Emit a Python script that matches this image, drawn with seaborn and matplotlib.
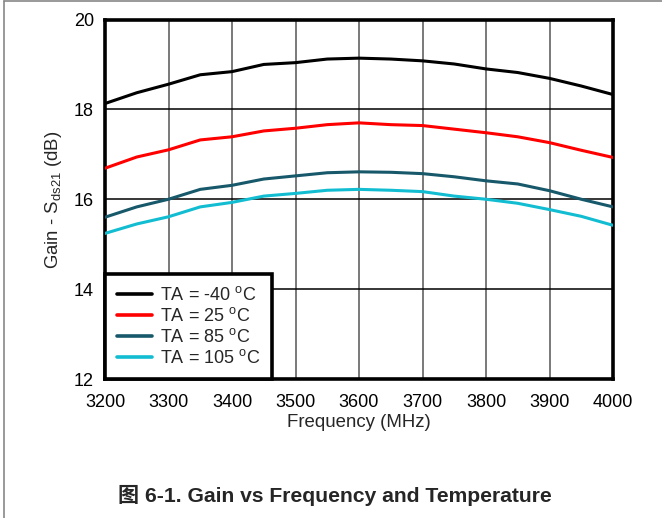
import numpy as np
import pandas as pd
import matplotlib
matplotlib.use("Agg")
import matplotlib.pyplot as plt
from matplotlib.lines import Line2D
import seaborn as sns

# Frequency sweep (MHz)
freq = [3200, 3250, 3300, 3350, 3400, 3450, 3500, 3550, 3600,
        3650, 3700, 3750, 3800, 3850, 3900, 3950, 4000]

# Gain (dB) at each temperature
gain_m40 = [18.13, 18.37, 18.56, 18.77, 18.84, 19.00, 19.04, 19.12, 19.14,
            19.12, 19.08, 19.01, 18.90, 18.82, 18.69, 18.52, 18.33]
gain_25 = [16.69, 16.94, 17.10, 17.32, 17.39, 17.52, 17.58, 17.66, 17.70,
           17.66, 17.64, 17.56, 17.48, 17.39, 17.26, 17.09, 16.93]
gain_85 = [15.60, 15.83, 16.00, 16.22, 16.31, 16.45, 16.52, 16.59, 16.61,
           16.60, 16.57, 16.50, 16.41, 16.34, 16.19, 16.00, 15.83]
gain_105 = [15.24, 15.45, 15.61, 15.83, 15.93, 16.07, 16.13, 16.20, 16.22,
            16.20, 16.17, 16.07, 16.00, 15.91, 15.77, 15.62, 15.42]

series_labels = ["TA = -40 $^{\\mathrm{o}}$C", "TA = 25 $^{\\mathrm{o}}$C",
                 "TA = 85 $^{\\mathrm{o}}$C", "TA = 105 $^{\\mathrm{o}}$C"]
series_colors = ["#000000", "#ff0000", "#17596b", "#12bdd2"]

x_ticks = [3200, 3300, 3400, 3500, 3600, 3700, 3800, 3900, 4000]
y_ticks = [12, 14, 16, 18, 20]

frames = []
for lab, g in zip(series_labels, [gain_m40, gain_25, gain_85, gain_105]):
    frames.append(pd.DataFrame({"freq": freq, "gain": g, "series": lab}))
df = pd.concat(frames, ignore_index=True)

sns.set_style("white")
plt.rcParams["font.family"] = ["Liberation Sans", "DejaVu Sans"]
plt.rcParams["mathtext.fontset"] = "custom"
plt.rcParams["mathtext.rm"] = "Liberation Sans"
plt.rcParams["mathtext.it"] = "Liberation Sans:italic"

fig = plt.figure(figsize=(6.62, 5.18), dpi=100)
ax = fig.add_axes([105 / 662, 1 - 379 / 518, 508 / 662, 359.5 / 518])

sns.lineplot(data=df, x="freq", y="gain", hue="series",
             palette=series_colors, hue_order=series_labels,
             linewidth=2.2, ax=ax, legend=False, zorder=3)

ax.set_xlim(3200, 4000)
ax.set_ylim(12, 20)
ax.set_xticks(x_ticks)
ax.set_yticks(y_ticks)
ax.tick_params(axis="both", length=0, labelsize=13, colors="black")
ax.tick_params(axis="x", pad=11)
ax.tick_params(axis="y", pad=8)

# Grid
for xv in x_ticks[1:-1]:
    ax.axvline(xv, color="#555555", linewidth=1.1, zorder=1)
for yv in y_ticks[1:-1]:
    ax.axhline(yv, color="#000000", linewidth=1.1, zorder=1)

for sp in ax.spines.values():
    sp.set_visible(True)
    sp.set_color("black")
    sp.set_linewidth(2.6)

ax.set_xlabel("Frequency (MHz)", fontsize=13.4, labelpad=2)
ax.set_ylabel("Gain - S$_{\\mathrm{ds21}}$ (dB)", fontsize=13.4, labelpad=7)

handles = [Line2D([0], [0], color=c, linewidth=2.6) for c in series_colors]
leg = ax.legend(handles, series_labels, loc="lower left", fontsize=13,
                frameon=True, fancybox=False, borderaxespad=0,
                handlelength=1.95, handletextpad=0.45, labelspacing=0.17,
                borderpad=0.65)
leg.get_frame().set_edgecolor("black")
leg.get_frame().set_linewidth(2.6)
leg.get_frame().set_alpha(1)
leg.set_zorder(5)

fig.text(335 / 662, 1 - 495 / 518, "图 6-1. Gain vs Frequency and Temperature",
         ha="center", va="center", fontsize=15.2, fontweight="bold",
         family=["Liberation Sans", "Noto Sans CJK SC"])

# Outer frame
fig.add_artist(Line2D([3.5 / 662, 3.5 / 662], [0, 1 - 1 / 518],
                      transform=fig.transFigure, color="#888888", linewidth=1.2))
fig.add_artist(Line2D([3.5 / 662, 1], [1 - 1 / 518, 1 - 1 / 518],
                      transform=fig.transFigure, color="#888888", linewidth=1.2))

fig.savefig("out.png", dpi=100)
